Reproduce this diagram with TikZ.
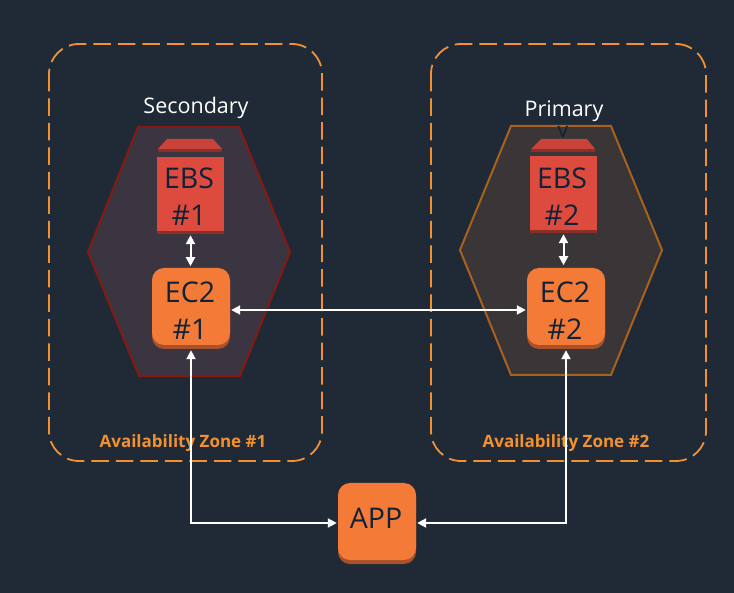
\documentclass[tikz,border=0pt]{standalone}
\usepackage{fontspec}
\setmainfont{Open Sans}
\usetikzlibrary{arrows.meta,shadows}
\definecolor{bgdark}{HTML}{202A37}
\definecolor{zoneorange}{HTML}{F39130}
\definecolor{ecorange}{HTML}{F47B37}
\definecolor{ecshade}{HTML}{A8512B}
\definecolor{ebsred}{HTML}{DD4B3F}
\definecolor{ebsshade}{HTML}{8A3027}
\definecolor{lidred}{HTML}{C9433A}
\definecolor{labelnavy}{HTML}{0F2338}
\definecolor{hexafill}{HTML}{3A3540}
\definecolor{hexbfill}{HTML}{3A3536}
\definecolor{hexaline}{HTML}{861A12}
\definecolor{hexbline}{HTML}{A8621C}
\tikzset{
 zonebox/.style={draw=zoneorange,line width=1.8pt,dash pattern=on 17.5pt off 7pt,rounded corners=30pt},
 hexagon/.style={line width=2pt,line join=miter},
 ecbox/.style={fill=ecorange,rounded corners=12pt,minimum width=78pt,minimum height=77pt,inner sep=0pt,
  general shadow={fill=ecshade,shadow xshift=0pt,shadow yshift=-4pt}},
 ebsbox/.style={fill=ebsred,minimum width=67pt,minimum height=74pt,inner sep=0pt,
  general shadow={fill=ebsshade,shadow xshift=0pt,shadow yshift=-3pt}},
 boxtext/.style={align=center,text=labelnavy,inner sep=0pt,font=\fontsize{28.5}{37}\selectfont},
 zonelabel/.style={text=zoneorange,font=\fontsize{17}{20}\selectfont\bfseries},
 rolelabel/.style={text=white,font=\fontsize{21.5}{25}\selectfont},
 link/.style={white,line width=2pt,{Triangle[length=9pt,width=9pt]}-{Triangle[length=9pt,width=9pt]}},
}
\begin{document}
\begin{tikzpicture}[x=1pt,y=-1pt]
 \useasboundingbox[fill=bgdark] (0,0) rectangle (734,593);
 % zones
 \draw[zonebox] (49,44) rectangle (322,461);
 \draw[zonebox] (431,44) rectangle (706,461);
 % hexagons
 \draw[hexagon,fill=hexafill,draw=hexaline] (88,252)--(138,127)--(239,127)--(290,252)--(240,376)--(139,376)--cycle;
 \draw[hexagon,fill=hexbfill,draw=hexbline] (460,250)--(511,126)--(611,126)--(662,250)--(611,375)--(511,375)--cycle;
 % labels
 \node[rolelabel] (seclabel) at (196,108) {Secondary};
 \node[rolelabel] (prilabel) at (564,111) {Primary};
 \node[zonelabel] (zonea) at (183,443) {Availability Zone \#1};
 \node[zonelabel] (zoneb) at (566,443) {Availability Zone \#2};
 % storage
 \node[text=labelnavy,font=\fontsize{21}{24}\selectfont] (stray) at (563,132) {v};
 \fill[ebsshade] (158,149)--(222,149)--(222,152)--(158,152)--cycle;
 \fill[ebsshade] (531,149)--(595,149)--(595,152)--(531,152)--cycle;
 \fill[lidred] (158,149)--(167,139)--(213,139)--(222,149)--cycle;
 \fill[lidred] (531,149)--(541,139)--(587,139)--(595,149)--cycle;
 \node[ebsbox] (ebsa) at (190.5,194) {};
 \node[ebsbox] (ebsb) at (563.5,193) {};
 \node[boxtext] (ebsatext) at (189,197) {EBS\\\#1};
 \node[boxtext] (ebsbtext) at (562,197) {EBS\\\#2};
 % instances
 \node[ecbox] (eca) at (191,306.5) {};
 \node[ecbox] (ecb) at (566,306.5) {};
 \node[ecbox] (app) at (377,521.5) {};
 \node[boxtext] (ecatext) at (190,311) {EC2\\\#1};
 \node[boxtext] (ecbtext) at (565,311) {EC2\\\#2};
 \node[boxtext] (apptext) at (376,518) {APP};
 % links
 \draw[link] (ebsa.south)++(0,4) -- ++(0,31);
 \draw[link] (ebsb.south)++(0,4) -- ++(0,31);
 \draw[link] (eca.east)++(1,3.5) -- ([xshift=-1pt,yshift=-3.5pt]ecb.west);
 \draw[link] (eca.south)++(0,5) |- ([xshift=-1pt,yshift=-1.5pt]app.west);
 \draw[link] (ecb.south)++(0,5) |- ([xshift=1pt,yshift=-1.5pt]app.east);
\end{tikzpicture}
\end{document}
